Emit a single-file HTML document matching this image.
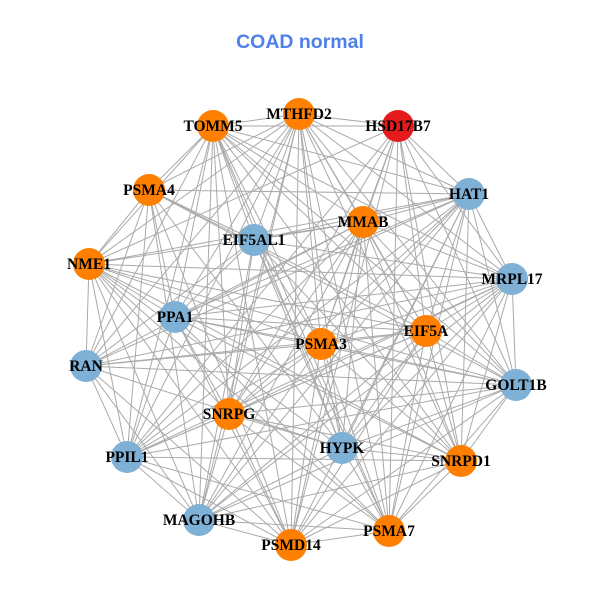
<!DOCTYPE html>
<html><head><meta charset="utf-8"><style>
body{margin:0;background:#fff;width:600px;height:600px;overflow:hidden}
</style></head><body>
<svg id="s" width="600" height="600" xmlns="http://www.w3.org/2000/svg">
<rect width="600" height="600" fill="#fff"/>
<text x="300" y="48" text-anchor="middle" font-family="Liberation Sans, sans-serif" font-weight="bold" font-size="19.5" fill="#4F7FEA">COAD normal</text>
<g id="edges" stroke="#aaaaaa" stroke-width="1"></g>
<g id="nodes"></g>
<g font-family="Liberation Serif, serif" font-weight="bold" font-size="15.5" fill="#000" text-anchor="middle">
<text x="398" y="131">HSD17B7</text>
<text x="299" y="119">MTHFD2</text>
<text x="213" y="131">TOMM5</text>
<text x="149" y="195">PSMA4</text>
<text x="469" y="199">HAT1</text>
<text x="363" y="227">MMAB</text>
<text x="254" y="245">EIF5AL1</text>
<text x="89" y="269">NME1</text>
<text x="512" y="284">MRPL17</text>
<text x="175" y="322">PPA1</text>
<text x="426" y="336">EIF5A</text>
<text x="321" y="349">PSMA3</text>
<text x="86" y="371">RAN</text>
<text x="516" y="390">GOLT1B</text>
<text x="229" y="419">SNRPG</text>
<text x="342" y="453">HYPK</text>
<text x="127" y="462">PPIL1</text>
<text x="461" y="466">SNRPD1</text>
<text x="199" y="525">MAGOHB</text>
<text x="291" y="550">PSMD14</text>
<text x="389" y="536">PSMA7</text>
</g>
</svg>
<script>
var N=[[398,126,'r'],[299,114,'o'],[213,126,'o'],[149,190,'o'],[469,194,'b'],[363,222,'o'],[254,240,'b'],[89,264,'o'],[512,279,'b'],[175,317,'b'],[426,331,'o'],[321,344,'o'],[86,366,'b'],[516,385,'b'],[229,414,'o'],[342,448,'b'],[127,457,'b'],[461,461,'o'],[199,520,'b'],[291,545,'o'],[389,531,'o']];
var C={r:'#E41A1C',o:'#FF7F00',b:'#7FB0D5'};
var ns='http://www.w3.org/2000/svg',E=document.getElementById('edges'),G=document.getElementById('nodes');
for(var i=0;i<N.length;i++)for(var j=i+1;j<N.length;j++){
 if((i*7+j*3)%9==0)continue;
 var l=document.createElementNS(ns,'line');
 l.setAttribute('x1',N[i][0]);l.setAttribute('y1',N[i][1]);l.setAttribute('x2',N[j][0]);l.setAttribute('y2',N[j][1]);E.appendChild(l);}
N.forEach(function(n){var c=document.createElementNS(ns,'circle');c.setAttribute('cx',n[0]);c.setAttribute('cy',n[1]);c.setAttribute('r',16);c.setAttribute('fill',C[n[2]]);G.appendChild(c);});
</script>
</body></html>
